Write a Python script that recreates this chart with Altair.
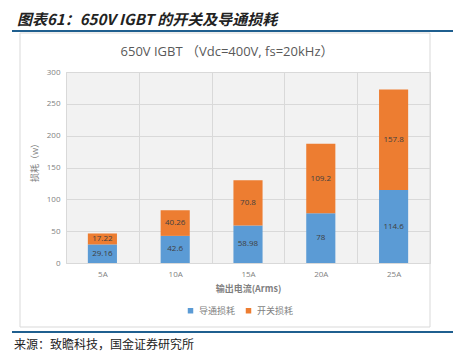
import altair as alt
import pandas as pd

categories = ["5A", "10A", "15A", "20A", "25A"]
series_names = ["导通损耗", "开关损耗"]
conduction = [29.16, 42.6, 58.98, 78, 114.6]
switching = [17.22, 40.26, 70.8, 109.2, 157.8]
y_ticks = [0, 50, 100, 150, 200, 250, 300]

header_text = "图表61：650V IGBT 的开关及导通损耗"
subtitle_text = "650V IGBT （Vdc=400V, fs=20kHz）"
source_text = "来源：致瞻科技，国金证券研究所"
x_title = "输出电流(Arms)"
y_title = "损耗（w）"

rows = []
for i, c in enumerate(categories):
    rows.append({"cat": c, "series": series_names[0], "value": conduction[i], "ord": 0})
    rows.append({"cat": c, "series": series_names[1], "value": switching[i], "ord": 1})
df = pd.DataFrame(rows)

FONT = "Open Sans, Noto Sans CJK SC, sans-serif"
CJK = "Noto Sans CJK SC"
W, H = 364, 191

x_axis = alt.Axis(labelAngle=0, tickBand="extent", grid=True, gridColor="#d9d9d9",
                  ticks=False, domain=False, labelFont=FONT, labelFontSize=8,
                  labelColor="#7f7f7f", labelPadding=7, titleFont=CJK,
                  titleFontSize=9, titleFontWeight="bold", titleColor="#7f7f7f",
                  titlePadding=6)
y_axis = alt.Axis(values=y_ticks, labelOverlap=False, gridColor="#d9d9d9", ticks=False,
                  domain=False, labelFont=FONT, labelFontSize=8, labelColor="#7f7f7f",
                  labelPadding=6, titleFont=CJK, titleFontSize=9,
                  titleFontWeight="normal", titleColor="#7f7f7f",
                  titleX=-27, titleY=88)
x_scale = alt.Scale(paddingInner=0, paddingOuter=0)
y_scale = alt.Scale(domain=[0, 300])

bars = alt.Chart(df).mark_bar(width=alt.RelativeBandSize(0.4)).encode(
    x=alt.X("cat:N", sort=categories, title=x_title, scale=x_scale, axis=x_axis),
    y=alt.Y("value:Q", stack="zero", title=y_title, scale=y_scale, axis=y_axis),
    color=alt.Color("series:N", scale=alt.Scale(domain=series_names, range=["#5b9bd5", "#ed7d31"]),
                    legend=alt.Legend(title=None, orient="none", legendX=120, legendY=234,
                                      direction="horizontal", symbolType="square", symbolSize=30,
                                      labelFont=CJK, labelFontSize=9, labelColor="#7f7f7f",
                                      columnPadding=8, symbolStrokeWidth=0)),
    order=alt.Order("ord:Q", sort="ascending"),
)

labels = alt.Chart(df).transform_stack(
    stack="value", groupby=["cat"], as_=["v0", "v1"], sort=[alt.SortField("ord", order="ascending")]
).transform_calculate(mid="(datum.v0 + datum.v1) / 2").mark_text(
    font=FONT, fontSize=8, color="#404040"
).encode(
    x=alt.X("cat:N", sort=categories, title=x_title, scale=x_scale, axis=x_axis),
    y=alt.Y("mid:Q", title=y_title, scale=y_scale, axis=y_axis),
    text=alt.Text("value:Q"),
)

one = pd.DataFrame({"k": [0]})
frame = alt.Chart(one).mark_rect(fill=None, stroke="#d9d9d9", strokeWidth=1).encode(
    x=alt.value(-46), x2=alt.value(364), y=alt.value(-39), y2=alt.value(255))
top_line = alt.Chart(one).mark_rule(color="#1f5f8f", strokeWidth=2).encode(
    x=alt.value(-54), x2=alt.value(387), y=alt.value(-41))
bot_line = alt.Chart(one).mark_rule(color="#1f5f8f", strokeWidth=2).encode(
    x=alt.value(-54), x2=alt.value(387), y=alt.value(260))
header = alt.Chart(pd.DataFrame({"t": [header_text]})).mark_text(
    font=CJK, fontSize=15, fontWeight="bold", fontStyle="italic", color="#222222",
    align="left", baseline="middle").encode(x=alt.value(-49), y=alt.value(-52), text="t:N")
subtitle = alt.Chart(pd.DataFrame({"t": [subtitle_text]})).mark_text(
    font=FONT, fontSize=13, color="#595959", align="center", baseline="middle").encode(
    x=alt.value(161), y=alt.value(-20), text="t:N")
source = alt.Chart(pd.DataFrame({"t": [source_text]})).mark_text(
    font=CJK, fontSize=12, color="#222222", align="left", baseline="middle").encode(
    x=alt.value(-52), y=alt.value(273), text="t:N")

chart = alt.layer(frame, top_line, bot_line, header, subtitle, source, bars, labels).properties(
    width=W, height=H,
    autosize=alt.AutoSizeParams(type="none"),
    padding={"left": 58, "top": 64, "right": 23, "bottom": 90},
).configure_view(stroke="#d9d9d9", fill="#f2f2f2")

chart.save("out.html", embed_options={"renderer": "svg", "actions": False})
